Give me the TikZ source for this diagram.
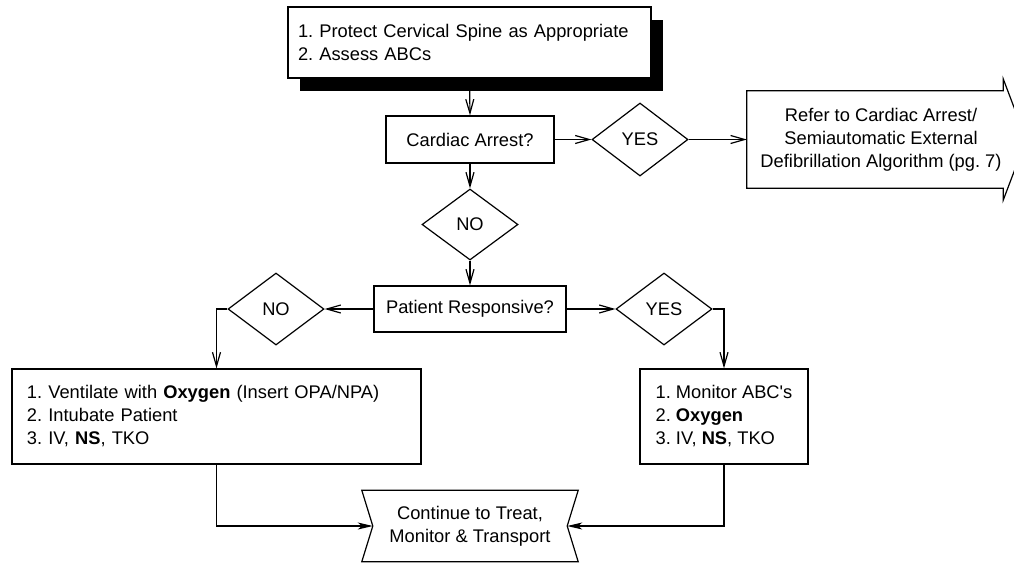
\documentclass[tikz,border=0pt]{standalone}
\usepackage{fontspec}
\setmainfont{Liberation Sans}[Ligatures=TeXOff]
\usetikzlibrary{arrows.meta,shapes.geometric,shadows}
\begin{document}
\frenchspacing
\begin{tikzpicture}[x=1pt,y=-1pt,
  every node/.style={font=\fontsize{18.3}{23}\selectfont\frenchspacing},
  lw/.style={line width=1.2pt},
  box/.style={draw,lw,rectangle,inner sep=0pt,align=center},
  dec/.style={draw,lw,diamond,inner sep=0pt,minimum width=96pt,minimum height=72pt},
  flow/.style={lw,-{Straight Barb[length=14pt,width=8pt]}},
  endflow/.style={lw,-{Stealth[length=15pt,width=7pt,inset=4pt]}}]
\useasboundingbox (0,0) rectangle (1014,563);

\node[box,fill=white,general shadow={fill=black,shadow xshift=12pt,shadow yshift=-13pt},
      minimum height=71pt,text width=343pt,inner xsep=10pt,align=left] (top) at (469.5,42.5)
  {1. Protect Cervical Spine as Appropriate\\2. Assess ABCs};

\node[box,minimum width=168pt,minimum height=47pt] (card) at (470,139.5) {Cardiac Arrest?};
\node[dec,minimum height=73pt] (yes1) at (640,139.5) {YES};

\node[align=center,inner sep=0pt,minimum width=268pt,minimum height=97pt] (refer) at (881,139.5)
  {Refer to Cardiac Arrest/\\Semiautomatic External\\Defibrillation Algorithm (pg. 7)};
\draw[lw] (refer.north west) -- ([xshift=-12pt]refer.north east) -- ++(0pt,12pt)
  -- ([xshift=11pt]refer.east) -- ([xshift=-12pt,yshift=-12pt]refer.south east)
  -- ++(0pt,12pt) -- (refer.south west) -- cycle;

\node[dec,minimum height=71pt] (no1) at (470,224.5) {NO};
\node[box,minimum width=192pt,minimum height=46pt] (pat) at (470,309) {Patient Responsive?};
\node[dec] (no2) at (276,309) {NO};
\node[dec] (yes2) at (664,309) {YES};

\node[box,align=left,text width=379pt,inner xsep=15pt,minimum height=95pt] (lbox) at (216.5,416.5)
  {1. Ventilate with \textbf{Oxygen} (Insert OPA/NPA)\\2. Intubate Patient\\3. IV, \textbf{NS}, TKO};
\node[box,align=left,minimum width=168pt,minimum height=95pt] (rbox) at (724,416.5)
  {1. Monitor ABC's\\2. \textbf{Oxygen}\\3. IV, \textbf{NS}, TKO};

\node[align=center,inner sep=0pt,minimum width=194pt,minimum height=71pt] (cont) at (470,526)
  {Continue to Treat,\\Monitor \& Transport};
\draw[lw] ([xshift=-11pt]cont.north west) -- ([xshift=11pt]cont.north east) -- (cont.east)
  -- ([xshift=11pt]cont.south east) -- ([xshift=-11pt]cont.south west) -- (cont.west) -- cycle;

\draw[flow] (top.south) -- (card.north);
\draw[flow] (card.east) -- (yes1.west);
\draw[flow] (yes1.east) -- (refer.west);
\draw[flow] (card.south) -- (no1.north);
\draw[flow] (no1.south) -- (pat.north);
\draw[flow] (pat.west) -- (no2.east);
\draw[flow] (pat.east) -- (yes2.west);
\draw[flow] (no2.west) -| (lbox.north);
\draw[flow] (yes2.east) -| (rbox.north);
\draw[endflow] (lbox.south) |- (cont.west);
\draw[endflow] (rbox.south) |- (cont.east);
\end{tikzpicture}
\end{document}
